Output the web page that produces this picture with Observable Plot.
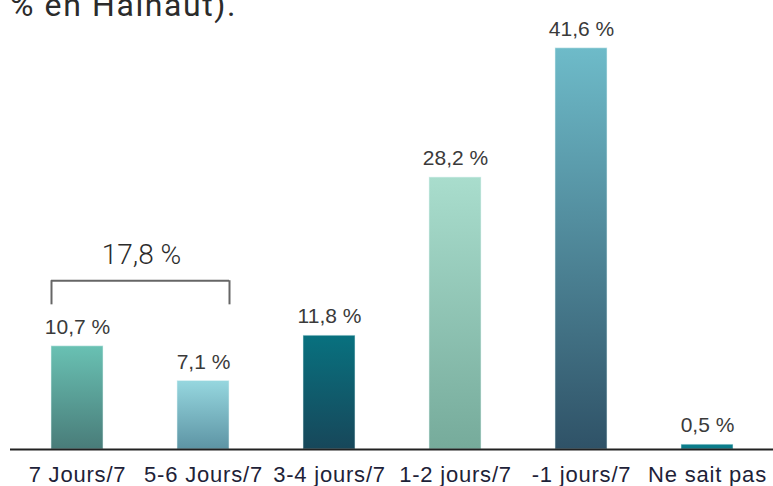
<!DOCTYPE html>
<html>
<head>
<meta charset="utf-8">
<script src="https://cdn.jsdelivr.net/npm/d3@7"></script>
<script src="https://cdn.jsdelivr.net/npm/@observablehq/plot@0.6"></script>
<style>
  html, body { margin: 0; padding: 0; background: #fff; }
  #wrap { position: relative; width: 773px; height: 486px; overflow: hidden; }
  #title { position: absolute; left: 10px; top: -11px; font-family: Roboto, sans-serif; font-weight: 400; font-size: 32px; letter-spacing: 1.6px; line-height: 1; color: #2b2b2b; white-space: nowrap; }
  #chart svg { display: block; }
  g[aria-label="x-axis tick label"] text { letter-spacing: 0.8px; }
  g[aria-label="values"] text { letter-spacing: 0.6px; text-shadow: 0 0 1.5px rgba(0,0,0,0.35); }
</style>
</head>
<body>
<div id="wrap">
  <div id="chart"></div>
  <div id="title">% en Hainaut).</div>
</div>
<script>
// ---- data ----
const categories = ["7 Jours/7", "5-6 Jours/7", "3-4 jours/7", "1-2 jours/7", "-1 jours/7", "Ne sait pas"];
const values = [10.7, 7.1, 11.8, 28.2, 41.6, 0.5];
const valueLabels = ["10,7 %", "7,1 %", "11,8 %", "28,2 %", "41,6 %", "0,5 %"];
const groupCategories = ["7 Jours/7", "5-6 Jours/7"];
const groupLabel = "17,8 %";

// ---- palette (styles) ----
const topColors = ["#69c1b3", "#96d7df", "#08717f", "#a9ddcd", "#6ebbc9", "#0b7f8d"];
const bottomColors = ["#497c79", "#5d94a4", "#17475a", "#76ab9b", "#2f5267", "#0b7a88"];

const data = categories.map((c, i) => ({category: c, value: values[i], label: valueLabels[i], fill: `url(#grad${i})`}));

const defs = () => {
  const d = d3.create("svg:defs");
  categories.forEach((c, i) => {
    const g = d.append("linearGradient").attr("id", `grad${i}`).attr("x1", 0).attr("y1", 0).attr("x2", 0).attr("y2", 1);
    g.append("stop").attr("offset", "0%").attr("stop-color", topColors[i]);
    g.append("stop").attr("offset", "100%").attr("stop-color", bottomColors[i]);
  });
  return d.node();
};

const bracketLevel = 17.5, bracketFoot = 15;

const chart = Plot.plot({
  width: 773,
  height: 486,
  marginLeft: 10,
  marginRight: 0,
  marginTop: 15,
  marginBottom: 37,
  style: {fontFamily: "'Liberation Sans', Arial, sans-serif", fontSize: "22px", color: "#1e2238", background: "#fff"},
  x: {domain: categories, paddingInner: 0.59, paddingOuter: 0.3, label: null},
  y: {domain: [0, 45], axis: null},
  color: {type: "identity"},
  marks: [
    defs,
    Plot.barY(data, {x: "category", y: "value", fill: "fill", stroke: "#e6f5f5", strokeOpacity: 0.55, strokeWidth: 1}),
    Plot.ruleY([0], {stroke: "#222", strokeWidth: 2}),
    Plot.axisX({tickSize: 0, tickPadding: 17, fontSize: 22, label: null}),
    Plot.text(data, {x: "category", y: "value", text: "label", dy: -19, fontSize: 21, fontFamily: "'Liberation Sans', Arial, sans-serif", fill: "#3a3a3a", ariaLabel: "values"}),
    Plot.ruleY([{a: groupCategories[0], b: groupCategories[1], y: bracketLevel}], {x1: "a", x2: "b", y: "y", stroke: "#666", strokeWidth: 2}),
    Plot.ruleX([groupCategories[0]], {x: d => d, y1: bracketLevel, y2: bracketFoot, dx: -26, stroke: "#666", strokeWidth: 2}),
    Plot.ruleX([groupCategories[1]], {x: d => d, y1: bracketLevel, y2: bracketFoot, dx: 26, stroke: "#666", strokeWidth: 2}),
    Plot.text([groupLabel], {x: () => groupCategories[0], y: () => bracketLevel, text: d => d, dx: 64, dy: -26, fontSize: 28, fontWeight: 300, fontFamily: "Roboto, sans-serif", fill: "#2b2b2b"})
  ]
});
document.getElementById("chart").appendChild(chart);
</script>
</body>
</html>
